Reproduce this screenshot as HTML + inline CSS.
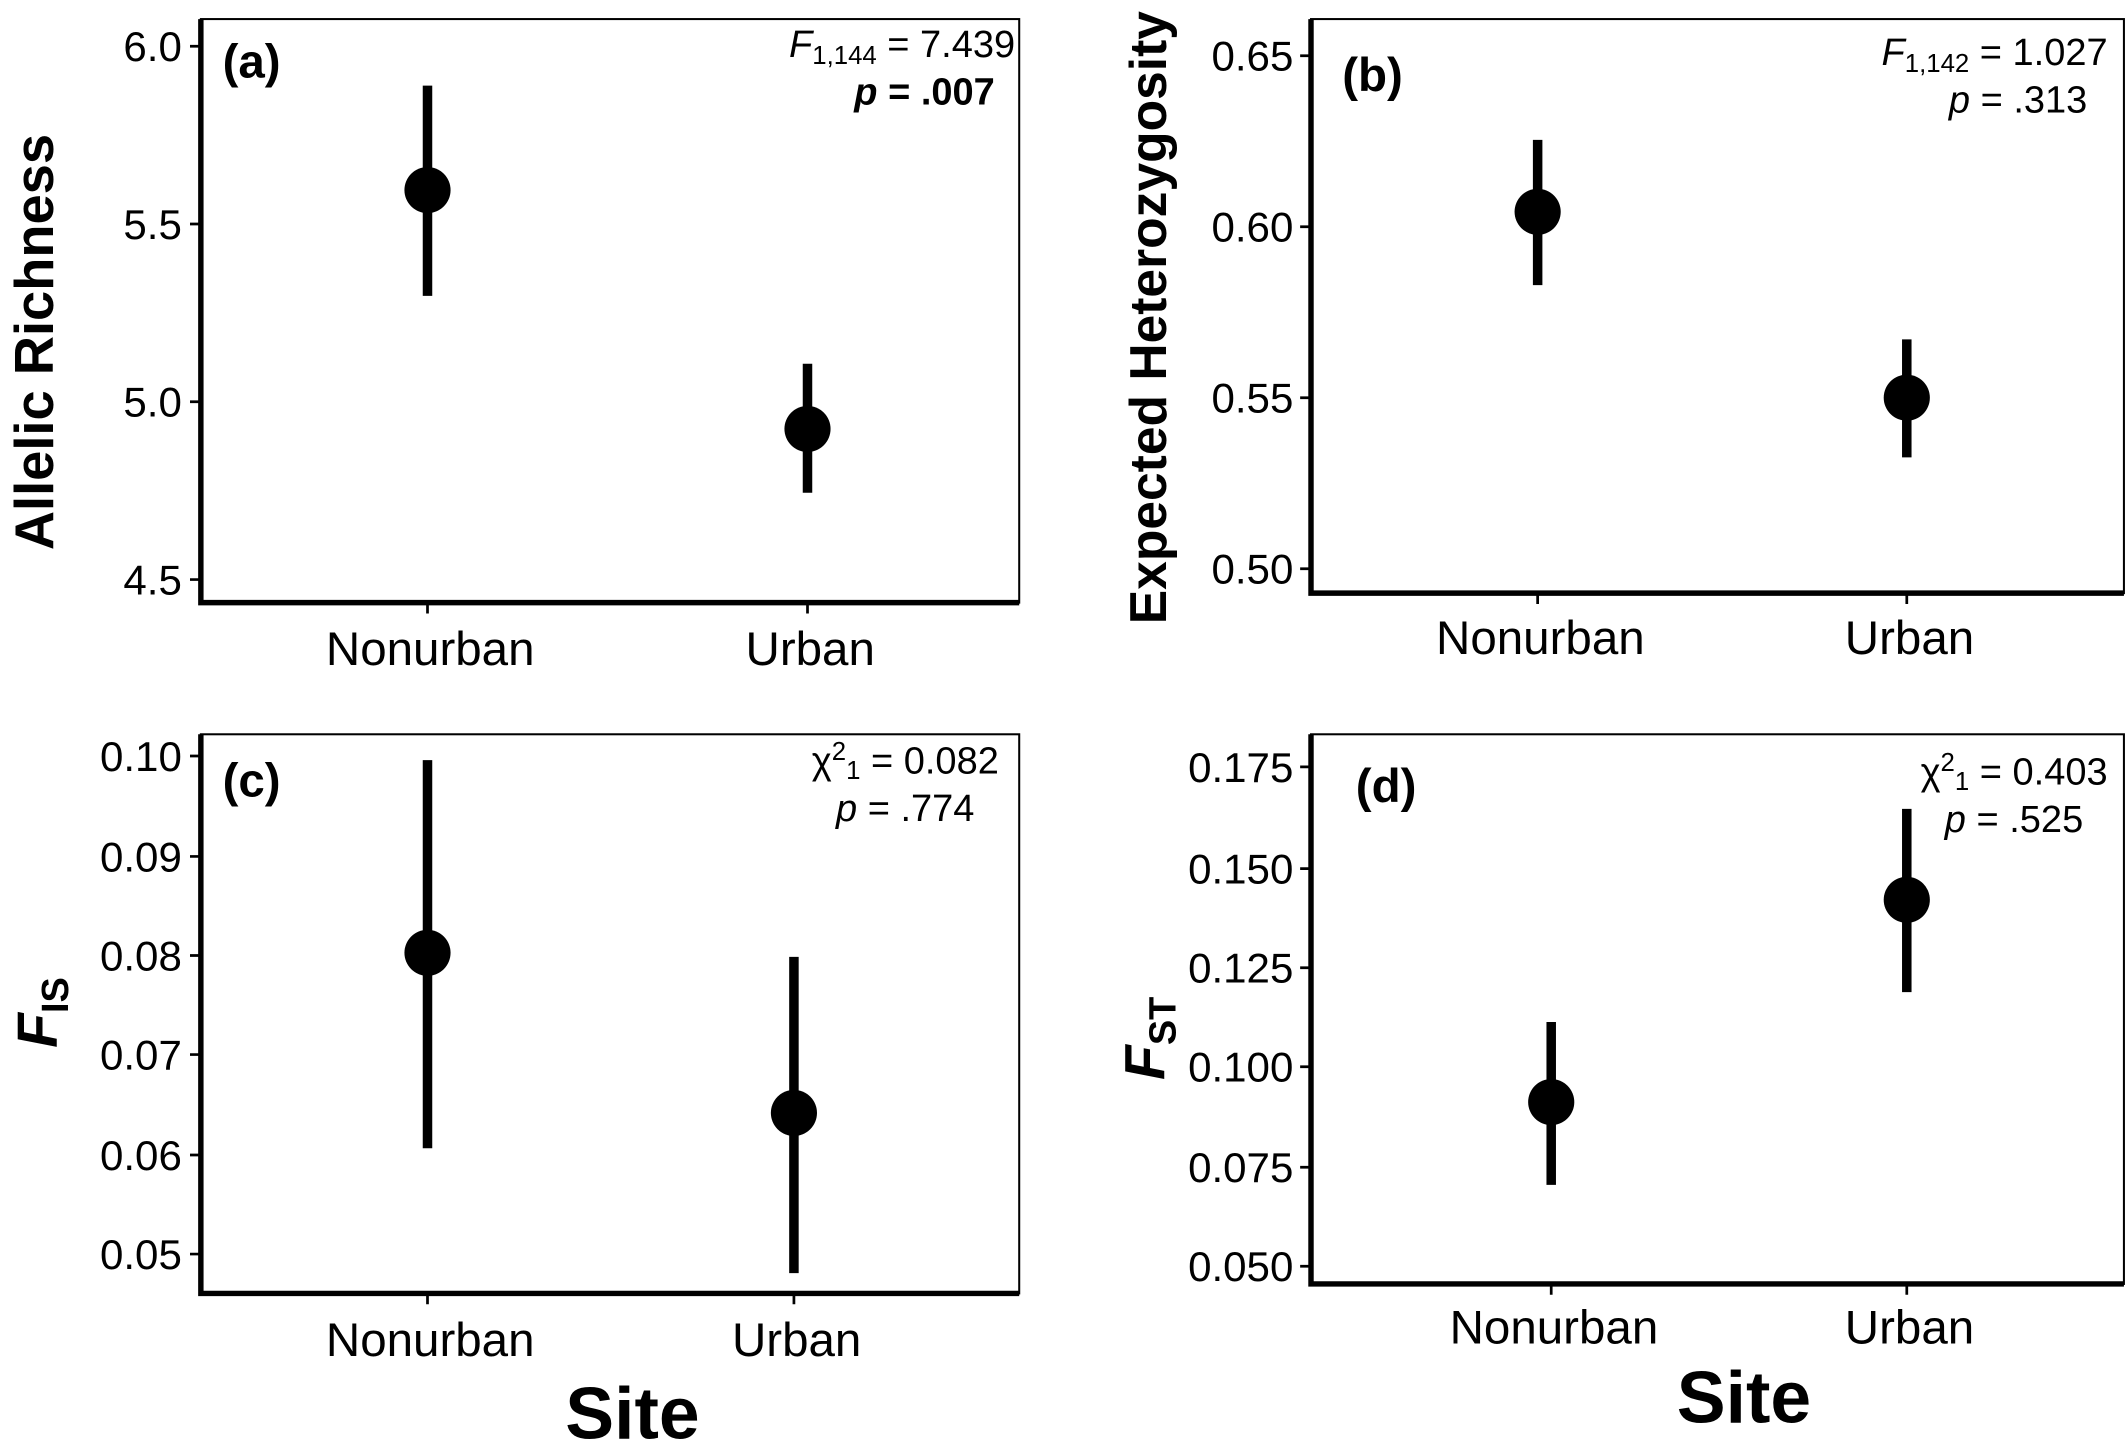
<!DOCTYPE html>
<html><head><style>html,body{margin:0;padding:0;background:#fff}svg{display:block}</style></head>
<body>
<svg width="2128" height="1455" viewBox="0 0 1568 1072" xmlns="http://www.w3.org/2000/svg" font-family="Liberation Sans, sans-serif">
<rect width="1568" height="1072" fill="#fff"/>
<g stroke="#000" fill="none">
<rect x="148" y="14" width="603" height="430" stroke-width="1.5"/>
<rect x="966" y="14" width="599" height="423" stroke-width="1.5"/>
<rect x="148" y="541" width="603" height="412" stroke-width="1.5"/>
<rect x="966" y="541" width="599" height="405" stroke-width="1.5"/>
<g stroke-width="4">
<path d="M148 14V444H751M966 14V437H1565M148 541V953H751M966 541V946H1565"/>
</g>
<g stroke-width="2">
<path d="M140 34h8M140 165h8M140 296h8M140 427h8M315 444v8M595 444v8"/>
<path d="M958 41h8M958 167h8M958 293h8M958 419h8M1133 437v8M1405 437v8"/>
<path d="M140 557h8M140 631h8M140 704h8M140 777h8M140 851h8M140 924h8M315 953v8M585 953v8"/>
<path d="M958 565h8M958 640h8M958 713h8M958 786h8M958 860h8M958 933h8M1143 946v8M1405 946v8"/>
</g>
<g stroke-width="7">
<path d="M315 63V218M595 268V363M1133 103V210M1405 250V337M315 560V846M585 705V938M1143 753V873M1405 596V731"/>
</g>
</g>
<g fill="#000">
<circle cx="315" cy="140" r="17"/><circle cx="595" cy="316" r="17"/>
<circle cx="1133" cy="156" r="17"/><circle cx="1405" cy="293" r="17"/>
<circle cx="315" cy="702" r="17"/><circle cx="585" cy="820" r="17"/>
<circle cx="1143" cy="812" r="17"/><circle cx="1405" cy="663" r="17"/>
</g>
<g font-size="31" text-anchor="end" fill="#000">
<text x="134" y="45">6.0</text><text x="134" y="176">5.5</text><text x="134" y="307">5.0</text><text x="134" y="438">4.5</text>
<text x="953" y="52">0.65</text><text x="953" y="178">0.60</text><text x="953" y="304">0.55</text><text x="953" y="430">0.50</text>
<text x="134" y="568">0.10</text><text x="134" y="642">0.09</text><text x="134" y="715">0.08</text><text x="134" y="788">0.07</text><text x="134" y="862">0.06</text><text x="134" y="935">0.05</text>
<text x="953" y="576">0.175</text><text x="953" y="651">0.150</text><text x="953" y="724">0.125</text><text x="953" y="797">0.100</text><text x="953" y="871">0.075</text><text x="953" y="944">0.050</text>
</g>
<g font-size="35" text-anchor="middle" fill="#000">
<text x="317" y="490">Nonurban</text><text x="597" y="490">Urban</text>
<text x="1135" y="482">Nonurban</text><text x="1407" y="482">Urban</text>
<text x="317" y="999">Nonurban</text><text x="587" y="999">Urban</text>
<text x="1145" y="990">Nonurban</text><text x="1407" y="990">Urban</text>
</g>
<g font-weight="bold" fill="#000" text-anchor="middle">
<text x="466" y="1060" font-size="54">Site</text>
<text x="1285" y="1048" font-size="54">Site</text>
<text transform="translate(39,252) rotate(-90)" font-size="40">Allelic Richness</text>
<text transform="translate(859,234) rotate(-90)" font-size="38">Expected Heterozygosity</text>
<text transform="translate(42,746) rotate(-90)" font-size="42" font-style="italic">F<tspan font-size="28" dy="8" font-style="normal">IS</tspan></text>
<text transform="translate(858,765) rotate(-90)" font-size="42" font-style="italic">F<tspan font-size="28" dy="8" font-style="normal">ST</tspan></text>
</g>
<g font-weight="bold" font-size="35" fill="#000">
<text x="164" y="57">(a)</text><text x="989" y="67">(b)</text><text x="164" y="587">(c)</text><text x="999" y="591">(d)</text>
</g>
<g font-size="28" fill="#000" text-anchor="end">
<text x="748" y="42"><tspan font-style="italic">F</tspan><tspan font-size="19" dy="5">1,144</tspan><tspan dy="-5"> = 7.439</tspan></text>
<text x="733" y="77" font-weight="bold"><tspan font-style="italic">p</tspan> = .007</text>
<text x="1553" y="48"><tspan font-style="italic">F</tspan><tspan font-size="19" dy="5">1,142</tspan><tspan dy="-5"> = 1.027</tspan></text>
<text x="1538" y="83"><tspan font-style="italic">p</tspan> = .313</text>
<text x="736" y="570">χ<tspan font-size="19" dy="-10">2</tspan><tspan font-size="19" dy="14">1</tspan><tspan dy="-4"> = 0.082</tspan></text>
<text x="718" y="605"><tspan font-style="italic">p</tspan> = .774</text>
<text x="1553" y="578">χ<tspan font-size="19" dy="-10">2</tspan><tspan font-size="19" dy="14">1</tspan><tspan dy="-4"> = 0.403</tspan></text>
<text x="1535" y="613"><tspan font-style="italic">p</tspan> = .525</text>
</g>
</svg>
</body></html>
